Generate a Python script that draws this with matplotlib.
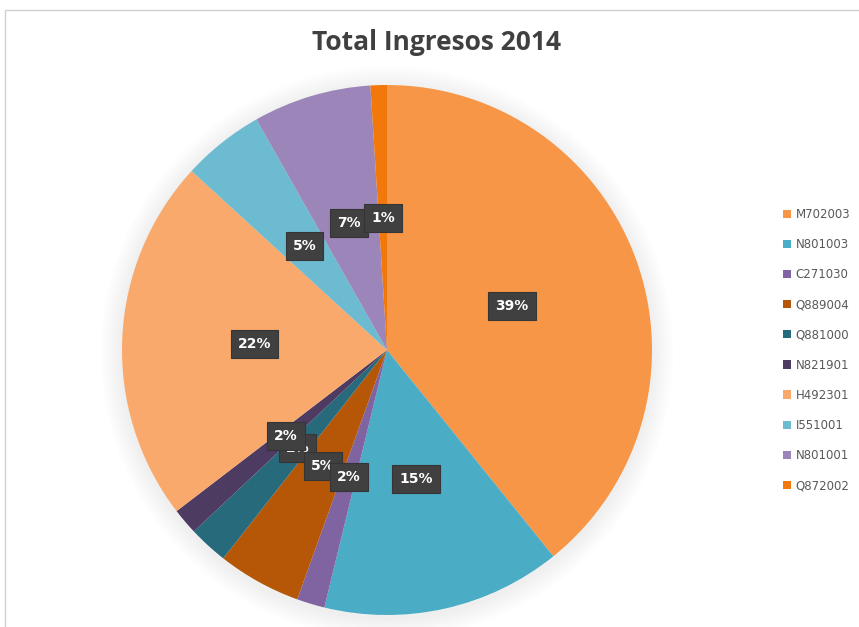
import matplotlib.pyplot as plt
from matplotlib.patches import Rectangle, Circle

# data, clockwise from 12 o'clock
labels = ["M702003", "N801003", "C271030", "Q889004", "Q881000",
          "N821901", "H492301", "I551001", "N801001", "Q872002"]
values = [39.2, 14.6, 1.7, 5.1, 2.4, 1.6, 22.2, 5.0, 7.2, 1.0]
colors = ["#F79646", "#4BACC6", "#8064A2", "#B65708", "#276A7C",
          "#4D3B62", "#F9A96B", "#6CBBD0", "#9C85B9", "#F2780C"]
title = "Total Ingresos 2014"

W, H = 859, 627
fig = plt.figure(figsize=(W / 100, H / 100), dpi=100)
fig.patch.set_facecolor("white")

# chart area border (left and top visible)
fig.patches.append(Rectangle((5 / W, -0.1), 1.2, 1.1 - 10 / H,
                             transform=fig.transFigure, fill=False,
                             edgecolor="#D0D0D0", linewidth=1.0))

cx, cy, r = 387, 350, 265
ax = fig.add_axes([(cx - r) / W, (H - cy - r) / H, 2 * r / W, 2 * r / H])
ax.axis("off")

# soft shadow behind the pie
for i in range(8):
    ax.add_patch(Circle((0, -0.01), 1.0 + 0.01 * (8 - i), color="black",
                        alpha=0.008, linewidth=0, zorder=0, clip_on=False))

wedges, texts, autotexts = ax.pie(
    values, colors=colors, startangle=90, counterclock=False,
    autopct="%1.0f%%", pctdistance=0.5, radius=1.0,
    wedgeprops=dict(linewidth=0, clip_on=False), textprops=dict(zorder=5))

ax.set_xlim(-1, 1)
ax.set_ylim(-1, 1)
ax.set_aspect("equal")

for t in autotexts:
    t.set_color("white")
    t.set_fontweight("bold")
    t.set_fontsize(10)
    t.set_bbox(dict(boxstyle="square,pad=0.5", facecolor="#404040",
                    edgecolor="#353535", linewidth=0.8))
# stacking order of the crowded small labels, as in the original
autotexts[2].set_zorder(7)
autotexts[3].set_zorder(6)
autotexts[4].set_zorder(5)
autotexts[5].set_zorder(6)

fig.text(437 / W, 1 - 43 / H, title, ha="center", va="center",
         fontsize=19, fontweight="bold", color="#404040",
         family="Open Sans")

leg = fig.legend(wedges, labels, loc="center left",
                 bbox_to_anchor=(772 / W, 1 - 350 / H), frameon=False,
                 fontsize=8.5, handlelength=0.7, handleheight=0.7,
                 handletextpad=0.4, labelspacing=1.45, labelcolor="#595959")

fig.savefig("out.png", dpi=100)
